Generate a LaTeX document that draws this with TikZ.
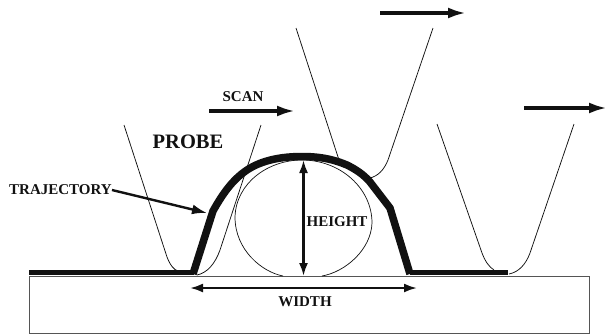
\documentclass[tikz,border=0pt]{standalone}
\usepackage{fontspec}
\setmainfont{Liberation Serif}
\usetikzlibrary{arrows.meta,positioning}
\definecolor{ink}{HTML}{111111}
\definecolor{edge}{HTML}{555555}
\begin{document}
\begin{tikzpicture}[
  x=1pt,
  y=-1pt,
  >={Latex[length=13pt,width=9pt]},
  label/.style={font=\bfseries\fontsize{15}{17}\selectfont, text=ink, inner sep=0pt},
  biglabel/.style={font=\bfseries\fontsize{20.5}{24}\selectfont, text=ink, inner sep=0pt},
  probe/.style={line width=.75pt, color=ink},
  track/.style={line width=7.5pt, color=ink, line join=round},
  flat/.style={line width=5.5pt, color=ink},
  particle/.style={line width=.7pt, color=ink},
  substrate/.style={draw=edge, line width=.8pt},
  motion/.style={-{Latex[length=18pt,width=11pt]}, line width=3.4pt, color=ink},
  measure/.style={<->, line width=2.2pt, color=ink},
]
\useasboundingbox (0,0) rectangle (607,335);

\draw[substrate] (29,276) rectangle (589,333);

% Particle sitting on the surface
\draw[particle] (283,276) .. controls (262,272) and (235,250) .. (235,217)
  .. controls (236,183) and (268,160) .. (302,160)
  .. controls (340,160) and (372,188) .. (372,223)
  .. controls (371,250) and (345,272) .. (322,276);

% Three probe positions
\draw[probe] (124,125) -- (167,257) .. controls (170,265) and (174,270) .. (178,271);
\draw[probe] (261,125) -- (220,250) .. controls (215,264) and (207,273) .. (197,275);
\draw[probe] (296,28) -- (339,160);
\draw[probe] (433,28) -- (388,160) .. controls (384,170) and (378,176) .. (370,178);
\draw[probe] (437,124) -- (482,253) .. controls (485,261) and (489,267) .. (494,270);
\draw[probe] (574,124) -- (530,253) .. controls (526,264) and (519,272) .. (509,274);

% Trajectory of the tip
\draw[flat] (29,272.5) -- (194,272.5);
\draw[track] (193,274) -- (213,211)
  .. controls (222,195) and (232,180) .. (247,170)
  .. controls (262,160) and (282,156.5) .. (302,156.5)
  .. controls (322,156.5) and (335,160) .. (347,165)
  .. controls (357,170) and (364,175) .. (370,182)
  -- (390,208) -- (410,274);
\draw[flat] (410,272.5) -- (508,272.5);

\node[biglabel] (probelabel) at (188,142) {PROBE};
\node[label] (scanlabel) at (243,97) {SCAN};
\node[label] (trajlabel) at (60.5,190) {TRAJECTORY};
\node[label] (heightlabel) at (337,222) {HEIGHT};
\node[label] (widthlabel) at (305,301.5) {WIDTH};

\coordinate (scanstart) at (209,111);
\coordinate (scanend) at (295,111);
\coordinate (topstart) at (380,13);
\coordinate (topend) at (466,13);
\coordinate (rightstart) at (524,108);
\coordinate (rightend) at (607,108);
\coordinate (trajend) at (207,213);
\coordinate (hightop) at (303.5,160);
\coordinate (highbase) at (303.5,276);
\coordinate (wideleft) at (190,288);
\coordinate (wideright) at (417,288);

\draw[motion] (scanstart) -- (scanend);
\draw[motion] (topstart) -- (topend);
\draw[motion] (rightstart) -- (rightend);
\draw[-{Latex[length=15pt,width=10pt]}, line width=2.4pt, color=ink] (trajlabel.east) -- (trajend);
\draw[measure] (hightop) -- (highbase);
\draw[measure] (wideleft) -- (wideright);

\end{tikzpicture}
\end{document}
